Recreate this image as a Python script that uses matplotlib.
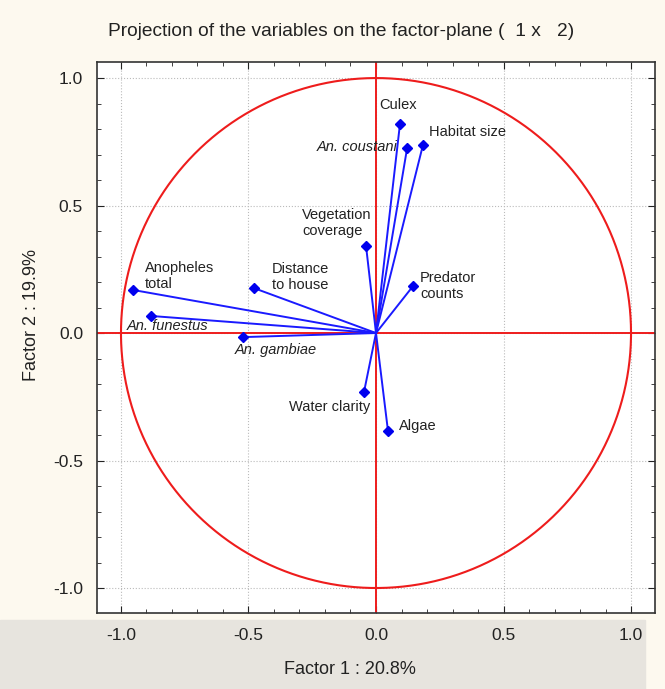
import numpy as np
import matplotlib.pyplot as plt
from matplotlib.patches import Rectangle

plt.rcParams['font.family'] = ['Liberation Sans', 'DejaVu Sans']

# Factor coordinates of the variables
names = ['Anopheles\ntotal', 'An. funestus', 'An. gambiae', 'Distance\nto house',
         'Vegetation\ncoverage', 'Culex', 'An. coustani', 'Habitat size',
         'Predator\ncounts', 'Water clarity', 'Algae']
f1 = [-0.953, -0.882, -0.522, -0.478, -0.039, 0.094, 0.122, 0.184, 0.145, -0.047, 0.047]
f2 = [0.169, 0.067, -0.016, 0.176, 0.341, 0.820, 0.725, 0.737, 0.184, -0.231, -0.384]
italic = [False, True, True, False, False, False, True, False, False, False, False]

# label offsets (data units) and alignment
offs = [(0.047, 0.056), (-0.094, -0.04), (-0.031, -0.051), (0.07, 0.044),
        (-0.251, 0.09), (-0.008, 0.074), (-0.036, 0.004), (0.024, 0.051),
        (0.028, 0.002), (-0.294, -0.059), (0.043, 0.019)]
has = ['left', 'left', 'left', 'left', 'left', 'center', 'right', 'left',
       'left', 'left', 'left']

bg = '#fdf9ef'
fig = plt.figure(figsize=(6.65, 6.89), dpi=100, facecolor=bg)
fig.patches.append(Rectangle((0, 0), 645/665, 69/689, transform=fig.transFigure,
                             color='#e7e4de', zorder=-10))
ax = fig.add_axes([97/665, 1-613/689, 558/665, 551/689])
ax.set_xlim(-1.094, 1.094)
ax.set_ylim(-1.098, 1.063)

t = np.linspace(0, 2*np.pi, 400)
ax.plot(np.cos(t), np.sin(t), color='#ee1c1c', lw=1.5, zorder=2)
ax.axhline(0, color='#ee1c1c', lw=1.4, zorder=2)
ax.axvline(0, color='#ee1c1c', lw=1.4, zorder=2)

for x, y in zip(f1, f2):
    ax.plot([0, x], [0, y], color='#1a1aff', lw=1.4, zorder=3)
ax.plot(f1, f2, 'D', color='#0000ee', ms=5.5, zorder=4, lw=0)

for i in range(len(names)):
    ax.text(f1[i]+offs[i][0], f2[i]+offs[i][1], names[i], fontsize=10.5,
            ha=has[i], va='center', style='italic' if italic[i] else 'normal',
            color='#222222', linespacing=1.2, zorder=5)

ticks = [-1.0, -0.5, 0.0, 0.5, 1.0]
ax.set_xticks(ticks)
ax.set_yticks(ticks)
ax.set_xticklabels(['%.1f' % v for v in ticks])
ax.set_yticklabels(['%.1f' % v for v in ticks])
ax.set_xticks(np.arange(-1.0, 1.05, 0.1), minor=True)
ax.set_yticks(np.arange(-1.0, 1.05, 0.1), minor=True)
ax.tick_params(which='both', direction='in', top=True, right=True, labelsize=12.5,
               colors='#222222')
ax.tick_params(which='major', length=5)
ax.tick_params(which='minor', length=3)
ax.tick_params(axis='x', pad=11)
ax.tick_params(axis='y', pad=10)
ax.grid(which='major', color='#bbbbbb', ls=':', lw=0.8)
for s in ax.spines.values():
    s.set_color('#333333')
    s.set_linewidth(1.2)

fig.text(350/665, 1-669/689, 'Factor 1 : 20.8%', fontsize=13, color='#222222',
         ha='center', va='center')
fig.text(32/665, 1-315/689, 'Factor 2 : 19.9%', fontsize=13, color='#222222',
         ha='center', va='center', rotation=90)
fig.text(341/665, 1-32/689, 'Projection of the variables on the factor-plane (  1 x   2)',
         fontsize=13.8, ha='center', va='center', color='#222222')

plt.savefig('out.png', facecolor=bg)
